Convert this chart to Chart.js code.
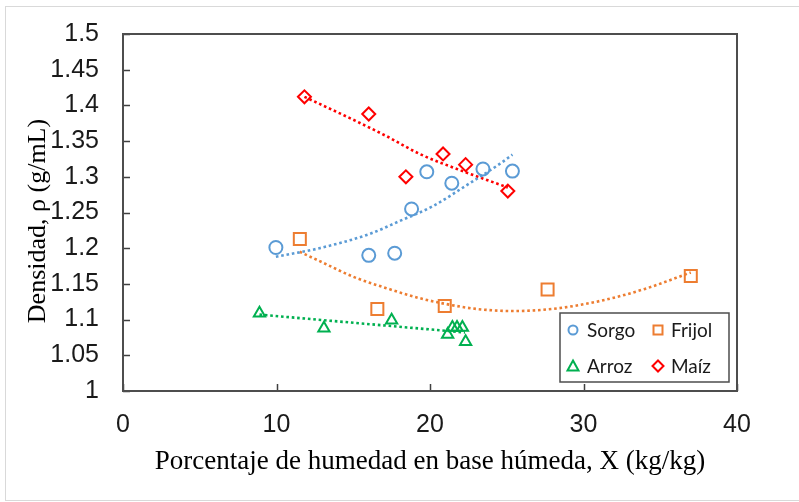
<!DOCTYPE html>
<html>
<head>
<meta charset="utf-8">
<script src="https://cdn.jsdelivr.net/npm/chart.js@4.4.1/dist/chart.umd.min.js"></script>
<style>
  html, body { margin: 0; padding: 0; background: #ffffff; }
  #wrap { width: 799px; height: 502px; position: relative; }
</style>
</head>
<body>
<div id="wrap"><canvas id="c" width="799" height="502"></canvas></div>
<script>
// ---- Data ----
const sorgoX = [9.96, 16.01, 17.70, 18.80, 19.79, 21.42, 23.45, 25.37];
const sorgoY = [1.201, 1.190, 1.193, 1.255, 1.307, 1.291, 1.311, 1.308];

const frijolX = [11.52, 16.57, 20.96, 27.66, 36.99];
const frijolY = [1.213, 1.115, 1.119, 1.142, 1.161];

const arrozX = [8.89, 13.09, 17.50, 21.15, 21.46, 21.76, 22.11, 22.32];
const arrozY = [1.109, 1.088, 1.099, 1.079, 1.089, 1.089, 1.089, 1.069];

const maizX = [11.82, 16.01, 18.43, 20.85, 22.32, 25.07];
const maizY = [1.412, 1.388, 1.300, 1.332, 1.317, 1.280];

// Trend lines (dotted)
const sorgoFitX = [9.96, 12.8, 16.07, 18.02, 20.2, 22.37, 24.54, 25.37];
const sorgoFitY = [1.188, 1.200, 1.220, 1.238, 1.259, 1.288, 1.318, 1.331];

const frijolFitX = [11.51, 13.0, 15.0, 17.16, 19.33, 21.0, 23.0, 25.4, 28.0, 31.06, 34.0, 36.99];
const frijolFitY = [1.195, 1.180, 1.160, 1.144, 1.130, 1.122, 1.115, 1.112, 1.115, 1.126, 1.143, 1.166];

const arrozFitX = [8.89, 22.28];
const arrozFitY = [1.107, 1.082];

const maizFitX = [11.82, 14.99, 17.16, 19.33, 22.0, 25.07];
const maizFitY = [1.412, 1.380, 1.357, 1.332, 1.309, 1.285];

const seriesNames = ['Sorgo', 'Frijol', 'Arroz', 'Maíz'];
const xTicks = [0, 10, 20, 30, 40];
const yTicks = [1, 1.05, 1.1, 1.15, 1.2, 1.25, 1.3, 1.35, 1.4, 1.45, 1.5];
const xTitle = 'Porcentaje de humedad en base húmeda, X (kg/kg)';
const yTitle = 'Densidad, ρ (g/mL)';

// ---- Styles ----
const BLUE = '#5B9BD5', ORANGE = '#ED7D31', GREEN = '#00B050', RED = '#FF0000';
const toPts = (xs, ys) => xs.map((x, i) => ({ x: x, y: ys[i] }));

function markerSet(label, xs, ys, color, style, radius) {
  return {
    label: label, data: toPts(xs, ys), showLine: false,
    pointStyle: style, pointRadius: radius, pointHoverRadius: radius,
    pointBorderWidth: 2, borderColor: color, pointBorderColor: color,
    backgroundColor: 'rgba(0,0,0,0)', pointBackgroundColor: 'rgba(0,0,0,0)'
  };
}
function trendSet(xs, ys, color) {
  return {
    label: '', data: toPts(xs, ys), showLine: true, pointRadius: 0, pointHoverRadius: 0,
    borderColor: color, borderWidth: 2.6, borderDash: [2.6, 2.8], borderCapStyle: 'butt',
    cubicInterpolationMode: 'monotone', fill: false
  };
}

const PLOT_LEFT = 123, PLOT_RIGHT = 737, PLOT_TOP_PAD = 34, PLOT_BOTTOM = 391;

const deco = {
  id: 'deco',
  beforeDraw(chart) {
    const ctx = chart.ctx;
    ctx.save();
    ctx.fillStyle = '#ffffff';
    ctx.fillRect(0, 0, chart.width, chart.height);
    ctx.strokeStyle = '#d9d9d9';
    ctx.lineWidth = 1;
    ctx.strokeRect(5.5, 6.5, 820, 494);
    ctx.restore();
  },
  afterDraw(chart) {
    const ctx = chart.ctx;
    ctx.save();
    ctx.translate(38, 221);
    ctx.rotate(-Math.PI / 2);
    ctx.fillStyle = '#000000';
    ctx.font = '26px "Liberation Serif", "Times New Roman", serif';
    ctx.textAlign = 'center';
    ctx.textBaseline = 'middle';
    ctx.fillText(yTitle, 0, 0);
    ctx.restore();
  },
  afterDatasetsDraw(chart) {
    const ctx = chart.ctx;
    const xs = chart.scales.x, ys = chart.scales.y;
    const a = chart.chartArea;
    ctx.save();
    // inward tick marks
    ctx.strokeStyle = '#404040';
    ctx.lineWidth = 1.5;
    ctx.beginPath();
    yTicks.forEach(v => {
      const py = Math.round(ys.getPixelForValue(v)) + 0.5;
      ctx.moveTo(a.left, py); ctx.lineTo(a.left + 7, py);
    });
    xTicks.forEach(v => {
      const px = Math.round(xs.getPixelForValue(v)) + 0.5;
      ctx.moveTo(px, a.bottom); ctx.lineTo(px, a.bottom - 7);
    });
    ctx.stroke();
    // plot border
    ctx.strokeStyle = '#4d4d4d';
    ctx.lineWidth = 2;
    ctx.strokeRect(a.left, a.top, a.right - a.left, a.bottom - a.top);

    // legend box
    const lx = 560, ly = 313, lw = 169, lh = 69;
    ctx.fillStyle = '#ffffff';
    ctx.fillRect(lx, ly, lw, lh);
    ctx.strokeStyle = '#4d4d4d';
    ctx.lineWidth = 1.5;
    ctx.strokeRect(lx, ly, lw, lh);

    const items = [
      { name: seriesNames[0], color: BLUE, style: 'circle', mx: 573, my: 330, tx: 587 },
      { name: seriesNames[1], color: ORANGE, style: 'rect', mx: 658, my: 330, tx: 671 },
      { name: seriesNames[2], color: GREEN, style: 'triangle', mx: 573, my: 366, tx: 587 },
      { name: seriesNames[3], color: RED, style: 'diamond', mx: 658, my: 366, tx: 671 }
    ];
    items.forEach(it => {
      ctx.strokeStyle = it.color;
      ctx.lineWidth = 2;
      ctx.beginPath();
      if (it.style === 'circle') {
        ctx.arc(it.mx, it.my, 4.5, 0, Math.PI * 2);
      } else if (it.style === 'rect') {
        ctx.rect(it.mx - 4.5, it.my - 4.5, 9, 9);
      } else if (it.style === 'triangle') {
        ctx.moveTo(it.mx, it.my - 5.5);
        ctx.lineTo(it.mx + 5.5, it.my + 4.5);
        ctx.lineTo(it.mx - 5.5, it.my + 4.5);
        ctx.closePath();
      } else {
        ctx.moveTo(it.mx, it.my - 5.5);
        ctx.lineTo(it.mx + 5.5, it.my);
        ctx.lineTo(it.mx, it.my + 5.5);
        ctx.lineTo(it.mx - 5.5, it.my);
        ctx.closePath();
      }
      ctx.stroke();
      ctx.fillStyle = '#1a1a1a';
      ctx.font = '19px Lato, "Open Sans", sans-serif';
      ctx.textBaseline = 'middle';
      ctx.textAlign = 'left';
      ctx.fillText(it.name, it.tx, it.my + 1);
    });
    ctx.restore();
  }
};

const fmt = v => String(Number(v.toFixed(2)));

new Chart(document.getElementById('c'), {
  type: 'scatter',
  data: {
    datasets: [
      trendSet(sorgoFitX, sorgoFitY, BLUE),
      trendSet(frijolFitX, frijolFitY, ORANGE),
      trendSet(arrozFitX, arrozFitY, GREEN),
      trendSet(maizFitX, maizFitY, RED),
      markerSet(seriesNames[0], sorgoX, sorgoY, BLUE, 'circle', 6.5),
      markerSet(seriesNames[1], frijolX, frijolY, ORANGE, 'rect', 8.5),
      markerSet(seriesNames[2], arrozX, arrozY, GREEN, 'triangle', 6.5),
      markerSet(seriesNames[3], maizX, maizY, RED, 'rectRot', 6.5)
    ]
  },
  options: {
    responsive: false,
    animation: false,
    devicePixelRatio: 1,
    layout: { padding: { left: 0, top: PLOT_TOP_PAD, right: 799 - PLOT_RIGHT, bottom: 0 } },
    plugins: { legend: { display: false }, tooltip: { enabled: false } },
    scales: {
      x: {
        type: 'linear', min: 0, max: 40,
        afterBuildTicks: s => { s.ticks = xTicks.map(v => ({ value: v })); },
        afterFit: s => { s.height = 502 - PLOT_BOTTOM; },
        grid: { display: false, drawTicks: false },
        border: { display: false },
        ticks: {
          font: { family: '"Liberation Sans", Arial, sans-serif', size: 25 },
          color: '#1a1a1a', padding: 19, maxRotation: 0, autoSkip: false,
          callback: v => fmt(v)
        },
        title: {
          display: true, text: xTitle, color: '#000000',
          font: { family: '"Liberation Serif", "Times New Roman", serif', size: 27 },
          padding: { top: 0, bottom: 24 }
        }
      },
      y: {
        type: 'linear', min: 1, max: 1.5,
        afterBuildTicks: s => { s.ticks = yTicks.map(v => ({ value: v })); },
        afterFit: s => { s.width = PLOT_LEFT; },
        grid: { display: false, drawTicks: true, tickLength: 24 },
        border: { display: false },
        ticks: {
          font: { family: '"Liberation Sans", Arial, sans-serif', size: 25 },
          color: '#1a1a1a', padding: 0, autoSkip: false,
          callback: v => fmt(v)
        },
        title: { display: false }
      }
    }
  },
  plugins: [deco]
});
</script>
</body>
</html>
